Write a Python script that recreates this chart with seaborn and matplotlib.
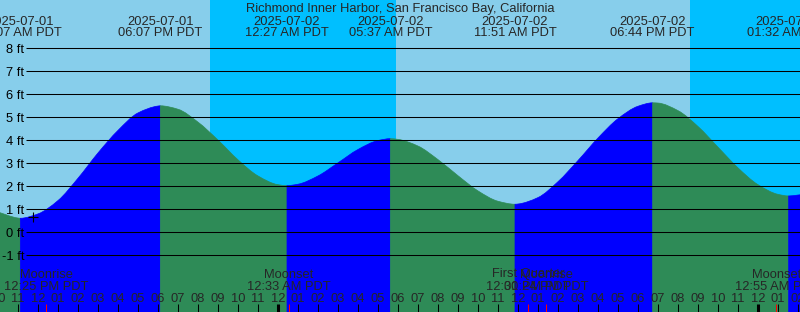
import numpy as np
import pandas as pd
import matplotlib
matplotlib.use("Agg")
import matplotlib.pyplot as plt
from matplotlib.path import Path
from matplotlib.patches import PathPatch
import seaborn as sns

sns.set_style("white")
plt.rcParams["font.family"] = ["Liberation Sans", "DejaVu Sans"]

TITLE = "Richmond Inner Harbor, San Francisco Bay, California"
REF = pd.Timestamp("2025-07-02 00:00")          # midnight, 2 July (PDT)
VIEW = ("2025-07-01 10:06", "2025-07-03 02:06")  # visible window

# high / low tide events
ext_dates = ["2025-07-01", "2025-07-01", "2025-07-02", "2025-07-02",
             "2025-07-02", "2025-07-02", "2025-07-03"]
ext_times = ["11:07 AM PDT", "06:07 PM PDT", "12:27 AM PDT", "05:37 AM PDT",
             "11:51 AM PDT", "06:44 PM PDT", "01:32 AM PDT"]
ext_ft = [0.61, 5.50, 2.03, 4.07, 1.22, 5.63, 1.58]

# hourly water level (10 AM 1 July .. 2 AM 3 July) + right edge
hourly_start = "2025-07-01 10:00"
hourly_ft = [0.88, 0.62, 0.80, 1.38, 2.35, 3.45, 4.43, 5.19, 5.49, 5.35,
             4.79, 4.01, 3.15, 2.45, 2.07, 2.09, 2.45, 3.02, 3.60, 3.99,
             4.04, 3.75, 3.16, 2.46, 1.80, 1.35, 1.23, 1.51, 2.20, 3.12,
             4.10, 4.94, 5.48, 5.62, 5.29, 4.60, 3.70, 2.80, 2.07, 1.65,
             1.62]
edge_time, edge_ft = "2025-07-03 02:06", 1.63

# night (sunset -> sunrise)
night_start = ["2025-07-01 20:36", "2025-07-02 20:36"]
night_end = ["2025-07-02 05:54", "2025-07-03 05:54"]

# moon events
moon_names = ["Moonrise", "Moonset", "First Quarter", "Moonrise", "Moonset"]
moon_dates = ["2025-07-01", "2025-07-02", "2025-07-02", "2025-07-02", "2025-07-03"]
moon_times = ["12:25 PM PDT", "12:33 AM PDT", "12:30 PM PDT", "01:24 PM PDT", "12:55 AM PDT"]

mark_time, mark_ft = "2025-07-01 11:46", 0.68
ft_levels = list(range(-1, 9))

DAY, NIGHT, FLOOD, EBB = "#87CEEB", "#00BFFF", "#0000FF", "#2E8B57"


def hrs(ts):
    return (pd.to_datetime(ts) - REF) / pd.Timedelta(hours=1)


ext_h = [hrs(d + " " + t.replace(" PDT", "")) for d, t in zip(ext_dates, ext_times)]
hourly_h = [hrs(pd.Timestamp(hourly_start) + pd.Timedelta(hours=i)) for i in range(len(hourly_ft))]
x0, x1 = hrs(VIEW[0]), hrs(VIEW[1])

pts = pd.DataFrame({"t": hourly_h + ext_h + [hrs(edge_time)],
                    "ft": hourly_ft + ext_ft + [edge_ft]}).sort_values("t").reset_index(drop=True)
t = pts.t.to_numpy()
y = pts.ft.to_numpy()

# monotone (PCHIP) tangents so the drawn outline is a smooth curve through the readings
hk = np.diff(t)
dk = np.diff(y) / hk
m = np.zeros_like(y)
m[0], m[-1] = dk[0], dk[-1]
for k in range(1, len(y) - 1):
    if dk[k - 1] * dk[k] > 0:
        w1 = 2 * hk[k] + hk[k - 1]
        w2 = hk[k] + 2 * hk[k - 1]
        m[k] = (w1 + w2) / (w1 / dk[k - 1] + w2 / dk[k])

W, H = 800, 312
fig = plt.figure(figsize=(W / 100, H / 100), dpi=100)
ax = fig.add_axes([0, 0, 1, 1])
PX_FT = 23.0
ZERO_PX = 232.3
ybot = (ZERO_PX - H) / PX_FT
ytop = ZERO_PX / PX_FT
ax.set_xlim(x0, x1)
ax.set_ylim(ybot, ytop)
ax.set_facecolor(DAY)
for s in ax.spines.values():
    s.set_visible(False)

for a, b in zip(night_start, night_end):
    ax.axvspan(hrs(a), hrs(b), color=NIGHT, lw=0, zorder=0)

# tide fill, split at highs and lows
ext_idx = [int(np.argmin(np.abs(t - e))) for e in ext_h]
cuts = [0] + ext_idx + [len(t) - 1]
low = ybot - 0.5
for a, b in zip(cuts[:-1], cuts[1:]):
    if b <= a:
        continue
    col = FLOOD if y[b] > y[a] else EBB
    verts = [(t[a], low), (t[a], y[a])]
    codes = [Path.MOVETO, Path.LINETO]
    for i in range(a, b):
        dt = t[i + 1] - t[i]
        verts += [(t[i] + dt / 3, y[i] + m[i] * dt / 3),
                  (t[i + 1] - dt / 3, y[i + 1] - m[i + 1] * dt / 3),
                  (t[i + 1], y[i + 1])]
        codes += [Path.CURVE4] * 3
    verts += [(t[b], low), (t[a], low)]
    codes += [Path.LINETO, Path.CLOSEPOLY]
    ax.add_patch(PathPatch(Path(verts, codes), fc=col, ec=col, lw=0.5, zorder=1))

# foot lines and labels
lx = ((26 / W) * (x1 - x0)) + x0
ax.hlines(ft_levels, lx, x1, color="black", lw=0.75, zorder=3)
FS = 9.3


def yfrac(px):
    return 1 - px / H


for f in ft_levels:
    py = ZERO_PX - f * PX_FT
    ax.text(24 / W, yfrac(py + 4.3), f"{f} ft", transform=ax.transAxes, ha="right",
            va="baseline", fontsize=FS, color="black", zorder=4)

sns.scatterplot(x=[hrs(mark_time)], y=[mark_ft], marker="+", s=45, color="black",
                linewidth=0.8, ax=ax, zorder=5, legend=False)

xt = ax.get_xaxis_transform()
ax.text(0.5, yfrac(12), TITLE, transform=ax.transAxes, ha="center", va="baseline", fontsize=FS)
for h, d, tt in zip(ext_h, ext_dates, ext_times):
    ax.text(h, yfrac(25), d, transform=xt, ha="center", va="baseline", fontsize=FS)
    ax.text(h, yfrac(36), tt, transform=xt, ha="center", va="baseline", fontsize=FS)

for n, d, tt in zip(moon_names, moon_dates, moon_times):
    h = hrs(d + " " + tt.replace(" PDT", ""))
    ax.text(h, yfrac(277.5), n, transform=xt, ha="center", va="baseline", fontsize=FS)
    ax.text(h, yfrac(290), tt, transform=xt, ha="center", va="baseline", fontsize=FS)
    ax.vlines(h, 0, yfrac(304), transform=xt, color="red", lw=0.75, zorder=6)

for h in range(int(np.floor(x0)), int(np.ceil(x1)) + 1):
    hod = h % 24
    lab = f"{(hod % 12) or 12:02d}"
    ax.text(h, yfrac(302), lab, transform=xt, ha="center", va="baseline", fontsize=FS)
    ax.vlines(h, 0, yfrac(304), transform=xt, color="black",
              lw=2.2 if hod == 0 else 0.75, zorder=6)

ax.set(xlabel=None, ylabel=None, xticks=[], yticks=[])
fig.savefig("out.png", dpi=100)
